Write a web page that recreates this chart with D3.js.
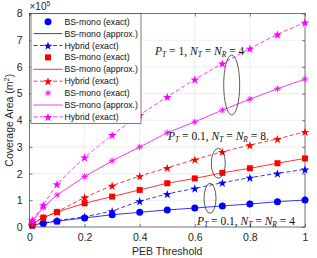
<!DOCTYPE html>
<html>
<head>
<meta charset="utf-8">
<script src="https://cdn.jsdelivr.net/npm/d3@7"></script>
<style>
  body { margin: 0; background: #fff; }
  text { font-family: "Liberation Sans", Arial, sans-serif; }
  .ann { font-family: "Liberation Serif", "DejaVu Serif", serif; font-style: italic; }
</style>
</head>
<body>
<svg id="chart" width="317" height="258"></svg>
<script>
// PEB threshold values
const pebThreshold = [0.01, 0.05, 0.1, 0.2, 0.3, 0.4, 0.5, 0.6, 0.7, 0.8, 0.9, 1];

// coverage area, units of 1e5 m^2
// P_T = 0.1, N_T = N_R = 4 (blue)
const blueMonoExact  = [0.07, 0.14, 0.22, 0.34, 0.46, 0.55, 0.64, 0.71, 0.79, 0.86, 0.95, 1.01];
const blueMonoApprox = [0.07, 0.14, 0.22, 0.34, 0.46, 0.55, 0.64, 0.71, 0.79, 0.86, 0.95, 1.01];
const blueHybrid     = [0.07, 0.15, 0.24, 0.38, 0.60, 0.97, 1.24, 1.45, 1.66, 1.85, 2.01, 2.16];
// P_T = 0.1, N_T = N_R = 8 (red)
const redMonoExact   = [0.12, 0.35, 0.56, 0.89, 1.14, 1.39, 1.64, 1.82, 2.03, 2.20, 2.39, 2.57];
const redMonoApprox  = [0.12, 0.35, 0.56, 0.89, 1.14, 1.39, 1.64, 1.82, 2.03, 2.20, 2.39, 2.57];
const redHybrid      = [0.13, 0.36, 0.57, 1.11, 1.55, 1.91, 2.22, 2.53, 2.82, 3.07, 3.30, 3.57];
// P_T = 1, N_T = N_R = 4 (magenta)
const magMonoExact   = [0.20, 0.74, 1.20, 1.89, 2.48, 3.00, 3.53, 3.94, 4.38, 4.79, 5.18, 5.54];
const magMonoApprox  = [0.20, 0.74, 1.20, 1.89, 2.48, 3.00, 3.53, 3.94, 4.38, 4.79, 5.18, 5.54];
const magHybrid      = [0.26, 0.82, 1.61, 2.61, 3.45, 4.20, 4.88, 5.53, 6.13, 6.69, 7.22, 7.67];

const xTicks = [0, 0.2, 0.4, 0.6, 0.8, 1];
const yTicks = [0, 1, 2, 3, 4, 5, 6, 7, 8];

const series = [
  {name: 'BS-mono (exact)',   values: blueMonoExact,  color: '#0000ff', line: null,   marker: 'circle'},
  {name: 'BS-mono (approx.)', values: blueMonoApprox, color: '#0000ff', line: 'solid', marker: null},
  {name: 'Hybrid (exact)',    values: blueHybrid,     color: '#0000ff', line: 'dash',  marker: 'star'},
  {name: 'BS-mono (exact)',   values: redMonoExact,   color: '#ff0000', line: null,   marker: 'square'},
  {name: 'BS-mono (approx.)', values: redMonoApprox,  color: '#ff0000', line: 'solid', marker: null},
  {name: 'Hybrid (exact)',    values: redHybrid,      color: '#ff0000', line: 'dash',  marker: 'star'},
  {name: 'BS-mono (exact)',   values: magMonoExact,   color: '#ff00ff', line: null,   marker: 'asterisk'},
  {name: 'BS-mono (approx.)', values: magMonoApprox,  color: '#ff00ff', line: 'solid', marker: null},
  {name: 'Hybrid (exact)',    values: magHybrid,      color: '#ff00ff', line: 'dash',  marker: 'star'},
];

const plot = {left: 29.5, right: 305, top: 13.5, bottom: 227};

const svg = d3.select('#chart');
const x = d3.scaleLinear().domain([0, 1]).range([plot.left, plot.right]);
const y = d3.scaleLinear().domain([0, 8]).range([plot.bottom, plot.top]);

// grid
const grid = svg.append('g').attr('stroke', '#e3e3e3').attr('stroke-width', 0.6);
grid.selectAll('.gx').data(xTicks).join('line')
  .attr('x1', d => x(d)).attr('x2', d => x(d)).attr('y1', plot.top).attr('y2', plot.bottom);
grid.selectAll('.gy').data(yTicks).join('line')
  .attr('x1', plot.left).attr('x2', plot.right).attr('y1', d => y(d)).attr('y2', d => y(d));

// axes (MATLAB style: ticks inside, boxed)
const axisStyle = g => {
  g.selectAll('.domain').remove();
  g.selectAll('line').attr('stroke', '#262626').attr('stroke-width', 0.6);
  g.selectAll('text').attr('fill', '#262626').style('font-size', '10.5px');
};
svg.append('g').attr('transform', `translate(0,${plot.bottom})`)
  .call(d3.axisBottom(x).tickValues(xTicks).tickSizeInner(-3).tickSizeOuter(0).tickPadding(7)
    .tickFormat(d => d === 0 || d === 1 ? d3.format('d')(d) : d3.format('.1f')(d)))
  .call(axisStyle);
svg.append('g').attr('transform', `translate(0,${plot.top})`)
  .call(d3.axisTop(x).tickValues(xTicks).tickSizeInner(-3).tickSizeOuter(0).tickFormat(''))
  .call(axisStyle);
svg.append('g').attr('transform', `translate(${plot.left},0)`)
  .call(d3.axisLeft(y).tickValues(yTicks).tickSizeInner(-3).tickSizeOuter(0).tickPadding(7))
  .call(axisStyle);
svg.append('g').attr('transform', `translate(${plot.right},0)`)
  .call(d3.axisRight(y).tickValues(yTicks).tickSizeInner(-3).tickSizeOuter(0).tickFormat(''))
  .call(axisStyle);

svg.append('rect')
  .attr('x', plot.left).attr('y', plot.top)
  .attr('width', plot.right - plot.left).attr('height', plot.bottom - plot.top)
  .attr('fill', 'none').attr('stroke', '#262626').attr('stroke-width', 0.6);

// exponent label
const expo = svg.append('text').attr('x', plot.left).attr('y', 10).attr('fill', '#262626')
  .style('font-size', '10px');
expo.append('tspan').text('\u00d710');
expo.append('tspan').attr('dy', -4).style('font-size', '7px').text('5');

// axis titles
svg.append('text').attr('x', (plot.left + plot.right) / 2).attr('y', 255)
  .attr('text-anchor', 'middle').attr('fill', '#262626').style('font-size', '10.5px')
  .text('PEB Threshold');
const yTitle = svg.append('text')
  .attr('transform', `translate(13,${(plot.top + plot.bottom) / 2}) rotate(-90)`)
  .attr('text-anchor', 'middle').attr('fill', '#262626').style('font-size', '10.5px');
yTitle.append('tspan').text('Coverage Area (m');
yTitle.append('tspan').attr('dy', -4).style('font-size', '7.5px').text('2');
yTitle.append('tspan').attr('dy', 4).text(')');

// markers
function drawMarker(g, type, color) {
  if (type === 'circle') {
    g.append('circle').attr('r', 3.5).attr('fill', color);
  } else if (type === 'square') {
    g.append('rect').attr('x', -3).attr('y', -3).attr('width', 6).attr('height', 6).attr('fill', color);
  } else if (type === 'star') {
    g.append('path').attr('d', d3.symbol(d3.symbolStar, 24)()).attr('fill', color)
      .attr('transform', 'translate(0,0.6)');
  } else if (type === 'asterisk') {
    const r = 3.2, q = r * 0.7071;
    g.append('path')
      .attr('d', `M${-r},0H${r}M0,${-r}V${r}M${-q},${-q}L${q},${q}M${-q},${q}L${q},${-q}`)
      .attr('stroke', color).attr('stroke-width', 0.9).attr('fill', 'none');
  }
}

const line = d3.line().x(d => x(d[0])).y(d => y(d[1]));
const lines = svg.append('g');
series.forEach(s => {
  const pts = pebThreshold.map((t, i) => [t, s.values[i]]);
  if (s.line) {
    lines.append('path').datum(pts).attr('d', line)
      .attr('fill', 'none').attr('stroke', s.color).attr('stroke-width', 0.8)
      .attr('stroke-dasharray', s.line === 'dash' ? '4,2.5' : null);
  }
  if (s.marker) {
    pts.forEach(p => {
      const g = lines.append('g').attr('transform', `translate(${x(p[0])},${y(p[1])})`);
      drawMarker(g, s.marker, s.color);
    });
  }
});

// annotations
function annotate(px, py, sub1, val, n) {
  const t = svg.append('text').attr('class', 'ann').attr('x', px).attr('y', py)
    .attr('fill', '#111').style('font-size', '11.5px');
  t.append('tspan').text('P');
  t.append('tspan').attr('dy', 2).style('font-size', '7.5px').text(sub1);
  t.append('tspan').attr('dy', -2).style('font-style', 'normal').text(` = ${val}, `);
  t.append('tspan').text('N');
  t.append('tspan').attr('dy', 2).style('font-size', '7.5px').text('T');
  t.append('tspan').attr('dy', -2).style('font-style', 'normal').text(' = ');
  t.append('tspan').text('N');
  t.append('tspan').attr('dy', 2).style('font-size', '7.5px').text('R');
  t.append('tspan').attr('dy', -2).style('font-style', 'normal').text(` = ${n}`);
}
const ellipse = (cx, cy, rx, ry) => svg.append('ellipse')
  .attr('cx', cx).attr('cy', cy).attr('rx', rx).attr('ry', ry)
  .attr('fill', 'none').attr('stroke', '#333').attr('stroke-width', 0.8);

ellipse(231.7, 85, 8, 30);
ellipse(218.3, 163.3, 7, 15);
ellipse(210, 198.3, 6, 15);

// legend
const legend = svg.append('g').attr('transform', 'translate(31,13.5)');
legend.append('rect').attr('width', 110).attr('height', 110)
  .attr('fill', '#fff').attr('stroke', '#262626').attr('stroke-width', 0.6);
series.forEach((s, i) => {
  const g = legend.append('g').attr('transform', `translate(0,${8.2 + i * 11.9})`);
  if (s.line) {
    g.append('line').attr('x1', 2.5).attr('x2', 31.5)
      .attr('stroke', s.color).attr('stroke-width', 0.8)
      .attr('stroke-dasharray', s.line === 'dash' ? '4,2.5' : null);
  }
  if (s.marker) {
    drawMarker(g.append('g').attr('transform', 'translate(17,0)'), s.marker, s.color);
  }
  g.append('text').attr('x', 33.5).attr('dy', '0.35em').attr('fill', '#111')
    .style('font-size', '8.7px').text(s.name);
});

annotate(155, 55, 'T', 1, 4);
annotate(168, 140, 'T', 0.1, '8.');
annotate(197, 225, 'T', 0.1, 4);
</script>
</body>
</html>
